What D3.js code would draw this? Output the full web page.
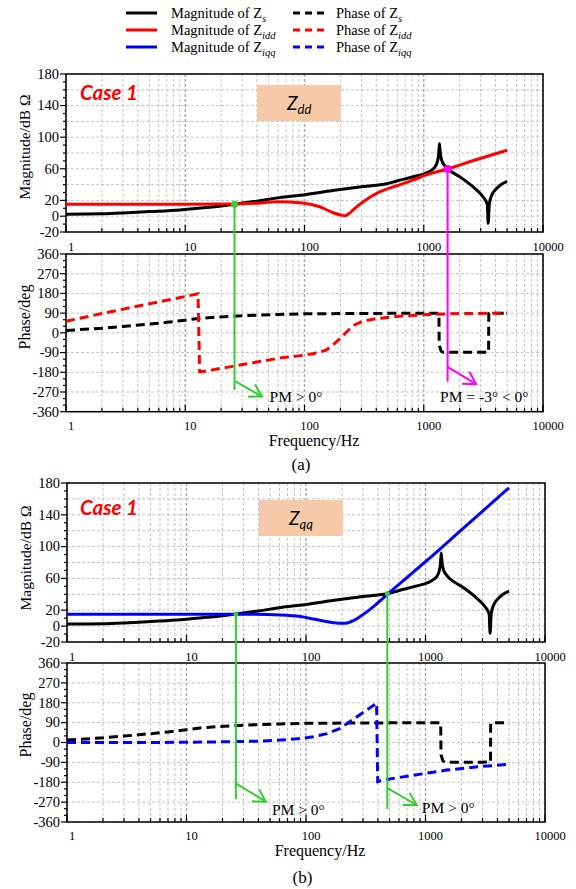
<!DOCTYPE html>
<html><head><meta charset="utf-8">
<script src="https://cdn.jsdelivr.net/npm/d3@7"></script>
<style>body{margin:0;background:#fff}</style>
</head><body>
<svg id="c" width="576" height="889"></svg>
<script>
// ---------------- data ----------------
const freqMajorTicks = [1, 10, 100, 1000, 10000];
const freqTickLabels = ["1", "10", "100", "1000", "10000"];
const magTickLabels = [180, 140, 100, 60, 20, 0, -20];
const phaseTickLabels = [360, 270, 180, 90, 0, -90, -180, -270, -360];

// Magnitude of Zs (dB)
const zsMagF = [1, 2, 3, 5, 9, 15, 26, 40, 62, 92, 172, 311, 489, 593, 818, 1059, 1150, 1250, 1300, 1335, 1355, 1375, 1420, 1500, 1600, 2000, 2600, 2960, 3160, 3410, 3470, 3545, 3700, 4080, 4400, 5000];
const zsMagV = [2.5, 3, 4, 5.8, 8, 11, 15.2, 19, 23.5, 26.5, 32.5, 37.5, 41, 44.5, 50, 55, 58, 63, 69, 79, 92, 80, 70, 64, 59.5, 50, 37, 29, 24, 15, -9, 15, 26, 35, 39.5, 44];
// Phase of Zs (deg)
const zsPhF = [1, 2, 3, 5, 7, 10, 13, 18, 25, 40, 60, 100, 200, 500, 1000, 1340, 1348, 1400, 1460, 2000, 3000, 3500, 3510, 3600, 5000];
const zsPhV = [11, 21, 29, 40, 48, 58, 66, 72, 76, 81, 84, 87, 88, 89, 89, 89, -55, -84, -89, -89, -89, -88, 88, 90, 90];

// Magnitude of Zidd (dB)
const zidMagF = [1, 10, 26, 40, 60, 92, 134, 174, 205, 219, 235, 260, 311, 430, 593, 818, 1100, 1560, 2500, 5000];
const zidMagV = [15, 15, 15.3, 16.5, 18.3, 17, 12, 4.4, 1.2, 0.6, 3, 9, 18.4, 31, 38.5, 46, 53.4, 59.5, 69.5, 83.5];
// Phase of Zidd (deg)
const zidPhF = [1, 2, 5, 10, 12.8, 13.2, 14.2, 25, 62, 92, 118, 150, 172, 200, 225, 260, 311, 400, 593, 1100, 2000, 5000];
const zidPhV = [53, 88, 133, 166, 178, -177, -176, -153, -115, -104, -95, -80, -57, -25, 4, 35, 54, 65, 75, 84, 88, 90];

// Magnitude of Ziqq (dB)
const ziqMagF = [1, 10, 30, 61, 90, 115, 140, 170, 212, 250, 284, 350, 489, 1000, 2000, 5000];
const ziqMagV = [15, 15, 15, 14, 12, 9, 6.5, 4.3, 3.5, 7, 12, 22, 41, 81, 121, 174];
// Phase of Ziqq (deg)
const ziqPhF = [1, 5, 10, 20, 40, 61, 90, 115, 150, 193, 390, 398, 500, 1000, 1500, 3000, 5000];
const ziqPhV = [0, 0, 1, 3, 6, 11, 18, 26, 40, 64, 178, -177, -165, -140, -125, -108, -99];

// crossing (phase-margin) frequencies and magnitudes
const pmFreqA = [25.9, 1585];
const pmMagA = [15.2, 59.8];
const pmTextA = ["PM > 0°", "PM = -3° < 0°"];
const pmFreqB = [25.9, 479];
const pmMagB = [15, 41];
const pmTextB = ["PM > 0°", "PM > 0°"];

// ---------------- drawing ----------------
const svg = d3.select("#c");
const SERIF = "'Liberation Serif','Times New Roman',serif";
const SANS = "Lato,'Open Sans','Liberation Sans',sans-serif";

const zs = {
  mag: zsMagF.map((f, i) => [f, zsMagV[i]]),
  ph: zsPhF.map((f, i) => [f, zsPhV[i]])
};
const zid = {
  mag: zidMagF.map((f, i) => [f, zidMagV[i]]),
  ph: zidPhF.map((f, i) => [f, zidPhV[i]])
};
const ziq = {
  mag: ziqMagF.map((f, i) => [f, ziqMagV[i]]),
  ph: ziqPhF.map((f, i) => [f, ziqPhV[i]])
};

// legend
const legendRows = [
  {c: "#000", mag: "Magnitude of Z", ph: "Phase of Z", sub: "s"},
  {c: "#ff0000", mag: "Magnitude of Z", ph: "Phase of Z", sub: "idd"},
  {c: "#0000ff", mag: "Magnitude of Z", ph: "Phase of Z", sub: "iqq"}
];
const lg = svg.append("g");
legendRows.forEach((r, i) => {
  const y = 13 + i * 17;
  lg.append("line").attr("x1", 126).attr("x2", 157).attr("y1", y).attr("y2", y)
    .attr("stroke", r.c).attr("stroke-width", 3);
  lg.append("line").attr("x1", 293).attr("x2", 324).attr("y1", y).attr("y2", y)
    .attr("stroke", r.c).attr("stroke-width", 3).attr("stroke-dasharray", "7,5");
  [[171, r.mag], [336, r.ph]].forEach(([x, t]) => {
    const tx = lg.append("text").attr("x", x).attr("y", y + 5)
      .attr("font-family", SERIF).attr("font-size", 14.5).text(t);
    tx.append("tspan").attr("font-style", "italic").attr("font-size", 10.5)
      .attr("dy", 4).text(r.sub);
  });
});

function arrowHead(g, x0, y0, x1, y1, col) {
  const a = Math.atan2(y1 - y0, x1 - x0);
  const L = 14, s = Math.PI / 6;
  const p = [[x1 + L * Math.cos(a + Math.PI - s), y1 + L * Math.sin(a + Math.PI - s)],
             [x1, y1],
             [x1 + L * Math.cos(a + Math.PI + s), y1 + L * Math.sin(a + Math.PI + s)]];
  g.append("polyline").attr("points", p.map(d => d.join(",")).join(" "))
    .attr("fill", "none").attr("stroke", col).attr("stroke-width", 2);
}

function drawPanel(cfg) {
  const g = svg.append("g");
  const x = d3.scaleLog().domain([1, 10000]).range([cfg.x0, cfg.x1]);
  const ym = d3.scaleLinear().domain([-20, 180]).range([cfg.magBot, cfg.magTop]);
  const yp = d3.scaleLinear().domain([-360, 360]).range([cfg.phBot, cfg.phTop]);

  const allF = [];
  for (let k = 0; k < 4; k++) for (let m = 1; m < 10; m++) allF.push(m * Math.pow(10, k));
  allF.push(10000);

  [[ym, cfg.magTop, cfg.magBot, d3.range(-20, 181, 20), d3.range(-20, 181, 10), magTickLabels],
   [yp, cfg.phTop, cfg.phBot, d3.range(-360, 361, 90), d3.range(-360, 361, 30), phaseTickLabels]]
  .forEach(([y, top, bot, gridVals, tickVals, labels]) => {
    const grid = g.append("g");
    allF.forEach(f => {
      const major = freqMajorTicks.includes(f);
      grid.append("line").attr("x1", x(f)).attr("x2", x(f)).attr("y1", top).attr("y2", bot)
        .attr("stroke", major ? "#a8a8a8" : "#c4c4c4").attr("stroke-width", major ? 1.4 : 1)
        .attr("stroke-dasharray", "3,2");
    });
    gridVals.forEach(v => {
      grid.append("line").attr("x1", cfg.x0).attr("x2", cfg.x1).attr("y1", y(v)).attr("y2", y(v))
        .attr("stroke", "#c4c4c4").attr("stroke-width", 1).attr("stroke-dasharray", "3,2");
    });
    // y ticks (outward)
    tickVals.forEach(v => {
      const L = labels.includes(v) ? 6 : 3;
      g.append("line").attr("x1", cfg.x0 - L).attr("x2", cfg.x0).attr("y1", y(v)).attr("y2", y(v))
        .attr("stroke", "#000").attr("stroke-width", 1.2);
    });
    labels.forEach(v => {
      g.append("text").attr("x", cfg.x0 - 7).attr("y", y(v) + 4.8)
        .attr("text-anchor", "end").attr("font-family", SERIF).attr("font-size", 14.5)
        .text(v);
    });
    // x ticks (inward from bottom)
    allF.forEach(f => {
      const L = freqMajorTicks.includes(f) ? 7 : 4;
      g.append("line").attr("x1", x(f)).attr("x2", x(f)).attr("y1", bot).attr("y2", bot - L)
        .attr("stroke", "#000").attr("stroke-width", 1.2);
    });
    // frame
    g.append("rect").attr("x", cfg.x0).attr("y", top).attr("width", cfg.x1 - cfg.x0)
      .attr("height", bot - top).attr("fill", "none").attr("stroke", "#000").attr("stroke-width", 1.5);
  });

  // x tick labels
  [[cfg.magXLabelY], [cfg.phXLabelY]].forEach(([ly]) => {
    freqMajorTicks.forEach((f, i) => {
      g.append("text").attr("x", x(f) + 5).attr("y", ly).attr("text-anchor", "middle")
        .attr("font-family", SERIF).attr("font-size", 12.5).text(freqTickLabels[i]);
    });
  });

  // axis titles
  g.append("text").attr("transform", `translate(${cfg.titleX},${cfg.magTitleY}) rotate(-90)`)
    .attr("text-anchor", "middle").attr("font-family", SERIF).attr("font-size", 15.5)
    .text("Magnitude/dB Ω");
  g.append("text").attr("transform", `translate(${cfg.titleX},${cfg.phTitleY}) rotate(-90)`)
    .attr("text-anchor", "middle").attr("font-family", SERIF).attr("font-size", 16)
    .text("Phase/deg");
  g.append("text").attr("x", cfg.freqX).attr("y", cfg.freqY).attr("text-anchor", "middle")
    .attr("font-family", SERIF).attr("font-size", 16).text("Frequency/Hz");
  g.append("text").attr("x", cfg.capX).attr("y", cfg.capY).attr("text-anchor", "middle")
    .attr("font-family", SERIF).attr("font-size", 17).text(cfg.cap);

  // case label and Z box
  g.append("text").attr("x", 80).attr("y", cfg.caseY).attr("font-family", SANS)
    .attr("font-weight", "bold").attr("font-style", "italic").attr("font-size", 20.5)
    .attr("fill", "#ff0000").text("Case 1");
  g.append("rect").attr("x", cfg.box[0]).attr("y", cfg.box[1]).attr("width", cfg.box[2])
    .attr("height", cfg.box[3]).attr("fill", "#f6c9a9");
  const zt = g.append("text").attr("x", cfg.box[0] + 30).attr("y", cfg.box[1] + 25)
    .attr("font-family", SANS).attr("font-style", "italic").attr("font-size", 19).text("Z");
  zt.append("tspan").attr("font-size", 13).attr("dy", 4).text(cfg.zsub);

  // curves
  const lm = d3.line().x(d => x(d[0])).y(d => ym(d[1])).curve(d3.curveMonotoneX);
  const lp = d3.line().x(d => x(d[0])).y(d => yp(d[1]));
  const ser = [[zs, "#000"], [cfg.series, cfg.col]];
  ser.forEach(([s, c]) => {
    g.append("path").attr("d", lm(s.mag)).attr("fill", "none").attr("stroke", c)
      .attr("stroke-width", 3).attr("stroke-linejoin", "round");
  });
  ser.forEach(([s, c]) => {
    g.append("path").attr("d", lp(s.ph)).attr("fill", "none").attr("stroke", c)
      .attr("stroke-width", 3).attr("stroke-dasharray", "9,5");
  });

  // PM annotations
  cfg.pm.forEach((p, i) => {
    const px = x(cfg.pmF[i]);
    const py = ym(cfg.pmM[i]);
    g.append("line").attr("x1", px).attr("x2", px).attr("y1", py).attr("y2", yp(p.bot))
      .attr("stroke", p.col).attr("stroke-width", 2);
    const ax0 = px, ay0 = yp(p.a0), ax1 = px + p.dx, ay1 = yp(p.a1);
    g.append("line").attr("x1", ax0).attr("y1", ay0).attr("x2", ax1).attr("y2", ay1)
      .attr("stroke", p.col).attr("stroke-width", 2);
    arrowHead(g, ax0, ay0, ax1, ay1, p.col);
    g.append("circle").attr("cx", px).attr("cy", py).attr("r", p.r).attr("fill", p.col);
    g.append("text").attr("x", px + p.tx).attr("y", p.ty).attr("font-family", SERIF)
      .attr("font-size", 15.5).text(cfg.pmT[i]);
  });
}

drawPanel({
  x0: 66, x1: 543, magTop: 74, magBot: 232, phTop: 254, phBot: 411.7,
  magXLabelY: 251, phXLabelY: 430, titleX: 30, magTitleY: 147, phTitleY: 317,
  freqX: 314, freqY: 446, capX: 301, capY: 470, cap: "(a)",
  caseY: 100, box: [257, 85, 84, 36], zsub: "dd",
  series: zid, col: "#ff0000",
  pmF: pmFreqA, pmM: pmMagA, pmT: pmTextA,
  pm: [
    {col: "#33cc33", bot: -261, a0: -219, a1: -291, dx: 27.5, tx: 35, ty: 402, r: 3.5},
    {col: "#ff00ff", bot: -223, a0: -155, a1: -234, dx: 28.5, tx: -7.5, ty: 402, r: 4}
  ]
});

drawPanel({
  x0: 67, x1: 545, magTop: 483, magBot: 642, phTop: 663, phBot: 822,
  magXLabelY: 661, phXLabelY: 840, titleX: 31, magTitleY: 558, phTitleY: 725,
  freqX: 320, freqY: 856, capX: 302.5, capY: 883, cap: "(b)",
  caseY: 515, box: [259, 500, 84, 36], zsub: "qq",
  series: ziq, col: "#0000ff",
  pmF: pmFreqB, pmM: pmMagB, pmT: pmTextB,
  pm: [
    {col: "#33cc33", bot: -257, a0: -185, a1: -268, dx: 30, tx: 36, ty: 815, r: 2.5},
    {col: "#33cc33", bot: -301, a0: -207, a1: -283, dx: 29.4, tx: 34.5, ty: 813, r: 2.5}
  ]
});
</script>
</body></html>
